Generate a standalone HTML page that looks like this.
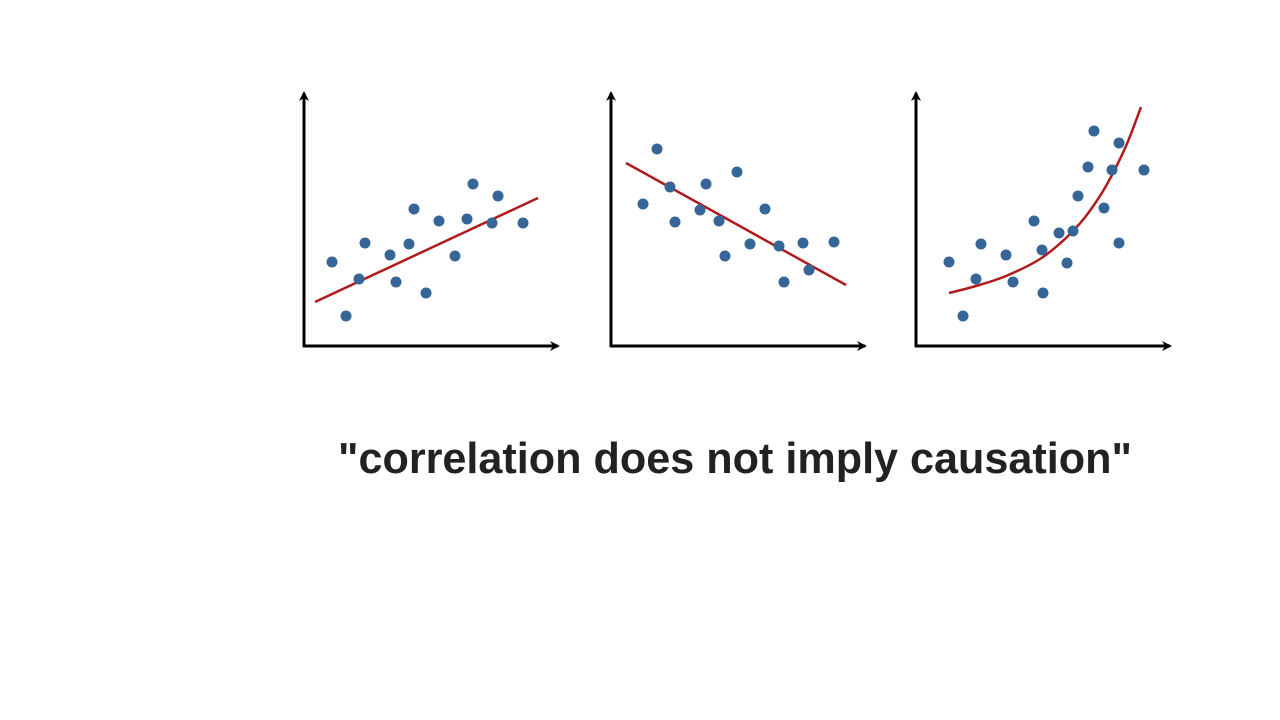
<!DOCTYPE html>
<html><head><meta charset="utf-8"><style>
html,body{margin:0;padding:0;background:#fff;width:1280px;height:720px;overflow:hidden}
</style></head><body>
<svg id="chart" width="1280" height="720" viewBox="0 0 1280 720" xmlns="http://www.w3.org/2000/svg">
<defs><marker id="ah" markerWidth="10" markerHeight="10" refX="8" refY="5" orient="auto" markerUnits="userSpaceOnUse"><path d="M0,0 L10,5 L0,10 L3,5 Z" fill="#000"/></marker></defs>
<text x="338" y="473" textLength="794" lengthAdjust="spacingAndGlyphs" font-family="Liberation Sans, sans-serif" font-weight="bold" font-size="44" fill="#222">"correlation does not imply causation"</text>
</svg>
<script>
const p1Points=[[28,84],[42,30],[55,67],[61,103],[86,91],[92,64],[105,102],[110,137],[122,53],[135,125],[151,90],[163,127],[169,162],[188,123],[194,150],[219,123]];
const p1Fit=[[11,44],[234,148]];
const p2Points=[[32,142],[46,197],[59,159],[64,124],[89,136],[95,162],[108,125],[114,90],[126,174],[139,102],[154,137],[168,100],[173,64],[192,103],[198,76],[223,104]];
const p2Fit=[[15,183],[235,61]];
const p3Points=[[33,84],[47,30],[60,67],[65,102],[90,91],[97,64],[118,125],[127,53],[126,96],[143,113],[151,83],[157,115],[162,150],[172,179],[178,215],[188,138],[196,176],[203,203],[203,103],[228,176]];
const p3Fit=[[33,53],[60,60],[90,70],[124,87],[150,108],[170,130],[190,160],[210,200],[225,239]];
const panels=[{ox:304,pts:p1Points,fit:p1Fit,name:'positive'},{ox:611,pts:p2Points,fit:p2Fit,name:'negative'},{ox:916,pts:p3Points,fit:p3Fit,name:'nonlinear'}];
const oy=346, NS='http://www.w3.org/2000/svg', svg=document.getElementById('chart');
function mk(t,a){const e=document.createElementNS(NS,t);for(const k in a)e.setAttribute(k,a[k]);return e;}
panels.forEach(p=>{
  const g=mk('g',{});
  
  
  svg.appendChild(g);
  const sx=v=>p.ox+v, sy=v=>oy-v;
  const ya=mk('line',{x1:p.ox,y1:oy+1,x2:p.ox,y2:93,stroke:'#000','stroke-width':3,'marker-end':'url(#ah)'});
  
  
  g.appendChild(ya);
  const xa=mk('line',{x1:p.ox-1,y1:oy,x2:p.ox+254,y2:oy,stroke:'#000','stroke-width':3,'marker-end':'url(#ah)'});
  
  
  g.appendChild(xa);
  let d;
  if(p.fit.length===2){d='M'+sx(p.fit[0][0])+','+sy(p.fit[0][1])+' L'+sx(p.fit[1][0])+','+sy(p.fit[1][1]);}
  else{const q=p.fit.map(a=>[sx(a[0]),sy(a[1])]);d='M'+q[0];for(let i=0;i<q.length-1;i++){const p0=q[Math.max(0,i-1)],p1=q[i],p2=q[i+1],p3=q[Math.min(q.length-1,i+2)];
    d+=' C'+(p1[0]+(p2[0]-p0[0])/6)+','+(p1[1]+(p2[1]-p0[1])/6)+' '+(p2[0]-(p3[0]-p1[0])/6)+','+(p2[1]-(p3[1]-p1[1])/6)+' '+p2[0]+','+p2[1];}}
  const fl=mk('path',{d:d,fill:'none',stroke:'#b11a1a','stroke-width':2.5});
  
  
  g.appendChild(fl);
  p.pts.forEach(a=>{const c=mk('circle',{cx:sx(a[0]),cy:sy(a[1]),r:5.5,fill:'#356697'});
    
    
    g.appendChild(c);});
});
</script>
</body></html>
